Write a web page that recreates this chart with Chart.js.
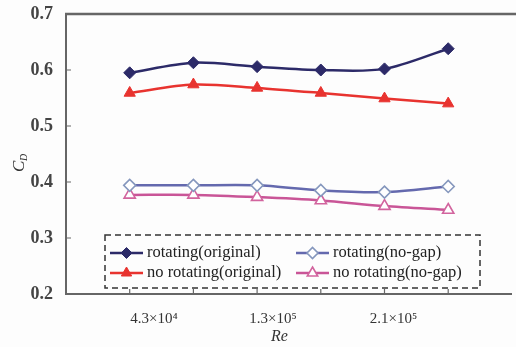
<!DOCTYPE html>
<html>
<head>
<meta charset="utf-8">
<script src="https://cdn.jsdelivr.net/npm/chart.js@4.4.1/dist/chart.umd.min.js"></script>
<style>
  html, body { margin: 0; padding: 0; background: #fdfdfd; overflow: hidden; }
  #wrap { width: 520px; height: 347px; }
</style>
</head>
<body>
<div id="wrap"><canvas id="myChart" width="520" height="347"></canvas></div>
<script>
// six Re cases at x = 1..6; the picture labels sit a little off their points
const pointCount = 6;
const categories = ['4.3×10⁴', '1.3×10⁵', '2.1×10⁵'];
const labelPositions = [1.38, 3.25, 5.14];
const rotOriginal = [0.595, 0.613, 0.606, 0.600, 0.602, 0.638];
const noRotOriginal = [0.559, 0.574, 0.568, 0.559, 0.549, 0.540];
const rotNoGap = [0.394, 0.394, 0.394, 0.385, 0.382, 0.392];
const noRotNoGap = [0.377, 0.377, 0.373, 0.367, 0.357, 0.350];
const yTicks = [0.2, 0.3, 0.4, 0.5, 0.6, 0.7];

const toPoints = arr => arr.map((v, i) => ({ x: i + 1, y: v }));

const serif = '"Liberation Serif", "DejaVu Serif", serif';

const datasets = [
  {
    label: 'rotating(original)',
    data: toPoints(rotOriginal),
    borderColor: '#2c2a68',
    backgroundColor: '#2c2a68',
    pointStyle: 'rectRot',
    pointRadius: 6,
    pointBorderWidth: 1,
    borderWidth: 2.5,
    tension: 0.3
  },
  {
    label: 'no rotating(original)',
    data: toPoints(noRotOriginal),
    borderColor: '#e8332f',
    backgroundColor: '#e8332f',
    pointStyle: 'triangle',
    pointRadius: 6.5,
    pointBorderWidth: 1,
    borderWidth: 2.5,
    tension: 0.3
  },
  {
    label: 'rotating(no-gap)',
    data: toPoints(rotNoGap),
    borderColor: '#6469ae',
    backgroundColor: '#ffffff',
    pointBorderColor: '#8597bd',
    pointStyle: 'rectRot',
    pointRadius: 6,
    pointBorderWidth: 1.6,
    borderWidth: 2.5,
    tension: 0.3
  },
  {
    label: 'no rotating(no-gap)',
    data: toPoints(noRotNoGap),
    borderColor: '#c95597',
    backgroundColor: '#ffffff',
    pointBorderColor: '#d2649e',
    pointStyle: 'triangle',
    pointRadius: 6.5,
    pointBorderWidth: 1.6,
    borderWidth: 2.5,
    tension: 0.3
  }
];

// top border, inward tick marks, axis titles and the dashed legend box
const decorations = {
  id: 'decorations',
  afterDraw(chart) {
    const c = chart.ctx;
    const area = chart.chartArea;
    const xs = chart.scales.x;
    const ys = chart.scales.y;
    c.save();
    c.strokeStyle = '#666';
    c.lineWidth = 2.5;
    c.beginPath();
    c.moveTo(area.left - 1, area.top);
    c.lineTo(area.right + 10, area.top);
    c.stroke();

    c.lineWidth = 1.2;
    c.beginPath();
    yTicks.forEach(v => {
      const py = ys.getPixelForValue(v);
      c.moveTo(area.left, py);
      c.lineTo(area.left + 5, py);
    });
    for (let i = 1; i <= pointCount; i++) {
      const px = xs.getPixelForValue(i);
      c.moveTo(px, area.bottom);
      c.lineTo(px, area.bottom - 5);
    }
    c.stroke();

    // axis titles
    c.fillStyle = '#333';
    c.font = 'italic 16px ' + serif;
    c.textAlign = 'center';
    c.textBaseline = 'middle';
    c.fillText('Re', xs.getPixelForValue(3.35), 337);

    c.translate(20, 165);
    c.rotate(-Math.PI / 2);
    c.textAlign = 'left';
    c.font = 'italic 17px ' + serif;
    c.fillText('C', -7, 0);
    c.font = 'italic 10px ' + serif;
    c.fillText('D', 4, 4);
    c.restore();

    // legend
    c.save();
    c.strokeStyle = '#333';
    c.lineWidth = 1.5;
    c.setLineDash([6, 4]);
    c.strokeRect(105, 235, 375, 53);
    c.setLineDash([]);
    const spots = [[110, 253], [110, 273], [296, 253], [296, 273]];
    chart.data.datasets.forEach((ds, i) => {
      const [lx, ly] = spots[i];
      c.strokeStyle = ds.borderColor;
      c.lineWidth = 2.5;
      c.beginPath();
      c.moveTo(lx, ly);
      c.lineTo(lx + 33, ly);
      c.stroke();
      c.fillStyle = ds.backgroundColor;
      c.strokeStyle = ds.pointBorderColor || ds.borderColor;
      c.lineWidth = ds.pointBorderWidth;
      Chart.helpers.drawPoint(c, { pointStyle: ds.pointStyle, radius: ds.pointRadius - 0.5, borderWidth: ds.pointBorderWidth }, lx + 16.5, ly);
      c.fillStyle = '#222';
      c.font = '16.5px ' + serif;
      c.textAlign = 'left';
      c.textBaseline = 'middle';
      c.fillText(ds.label, lx + 37, ly);
    });
    c.restore();
  }
};

new Chart(document.getElementById('myChart').getContext('2d'), {
  type: 'line',
  data: { datasets: datasets },
  options: {
    responsive: false,
    animation: false,
    layout: { padding: { top: 14, right: 2, left: 0, bottom: 0 } },
    plugins: { legend: { display: false }, tooltip: { enabled: false } },
    scales: {
      x: {
        type: 'linear',
        min: 0,
        max: 7,
        grid: { display: false, drawTicks: false },
        border: { color: '#666', width: 2 },
        afterFit: s => { s.height = 53; s.paddingLeft = 0; s.paddingRight = 0; },
        afterBuildTicks: s => {
          s.ticks = labelPositions.map(p => ({ value: p }));
        },
        ticks: {
          autoSkip: false,
          maxRotation: 0,
          padding: 16,
          color: '#333',
          font: { family: serif, size: 15 },
          callback: v => categories[labelPositions.indexOf(v)] || ''
        }
      },
      y: {
        min: 0.2,
        max: 0.7,
        grid: { display: false, drawTicks: false },
        border: { color: '#666', width: 2 },
        afterFit: s => { s.width = 66; s.paddingTop = 0; s.paddingBottom = 0; },
        ticks: {
          stepSize: 0.1,
          padding: 13,
          color: '#444',
          font: { family: serif, size: 18, weight: 'bold' },
          callback: v => v.toFixed(1)
        }
      }
    }
  },
  plugins: [decorations]
});
</script>
</body>
</html>
